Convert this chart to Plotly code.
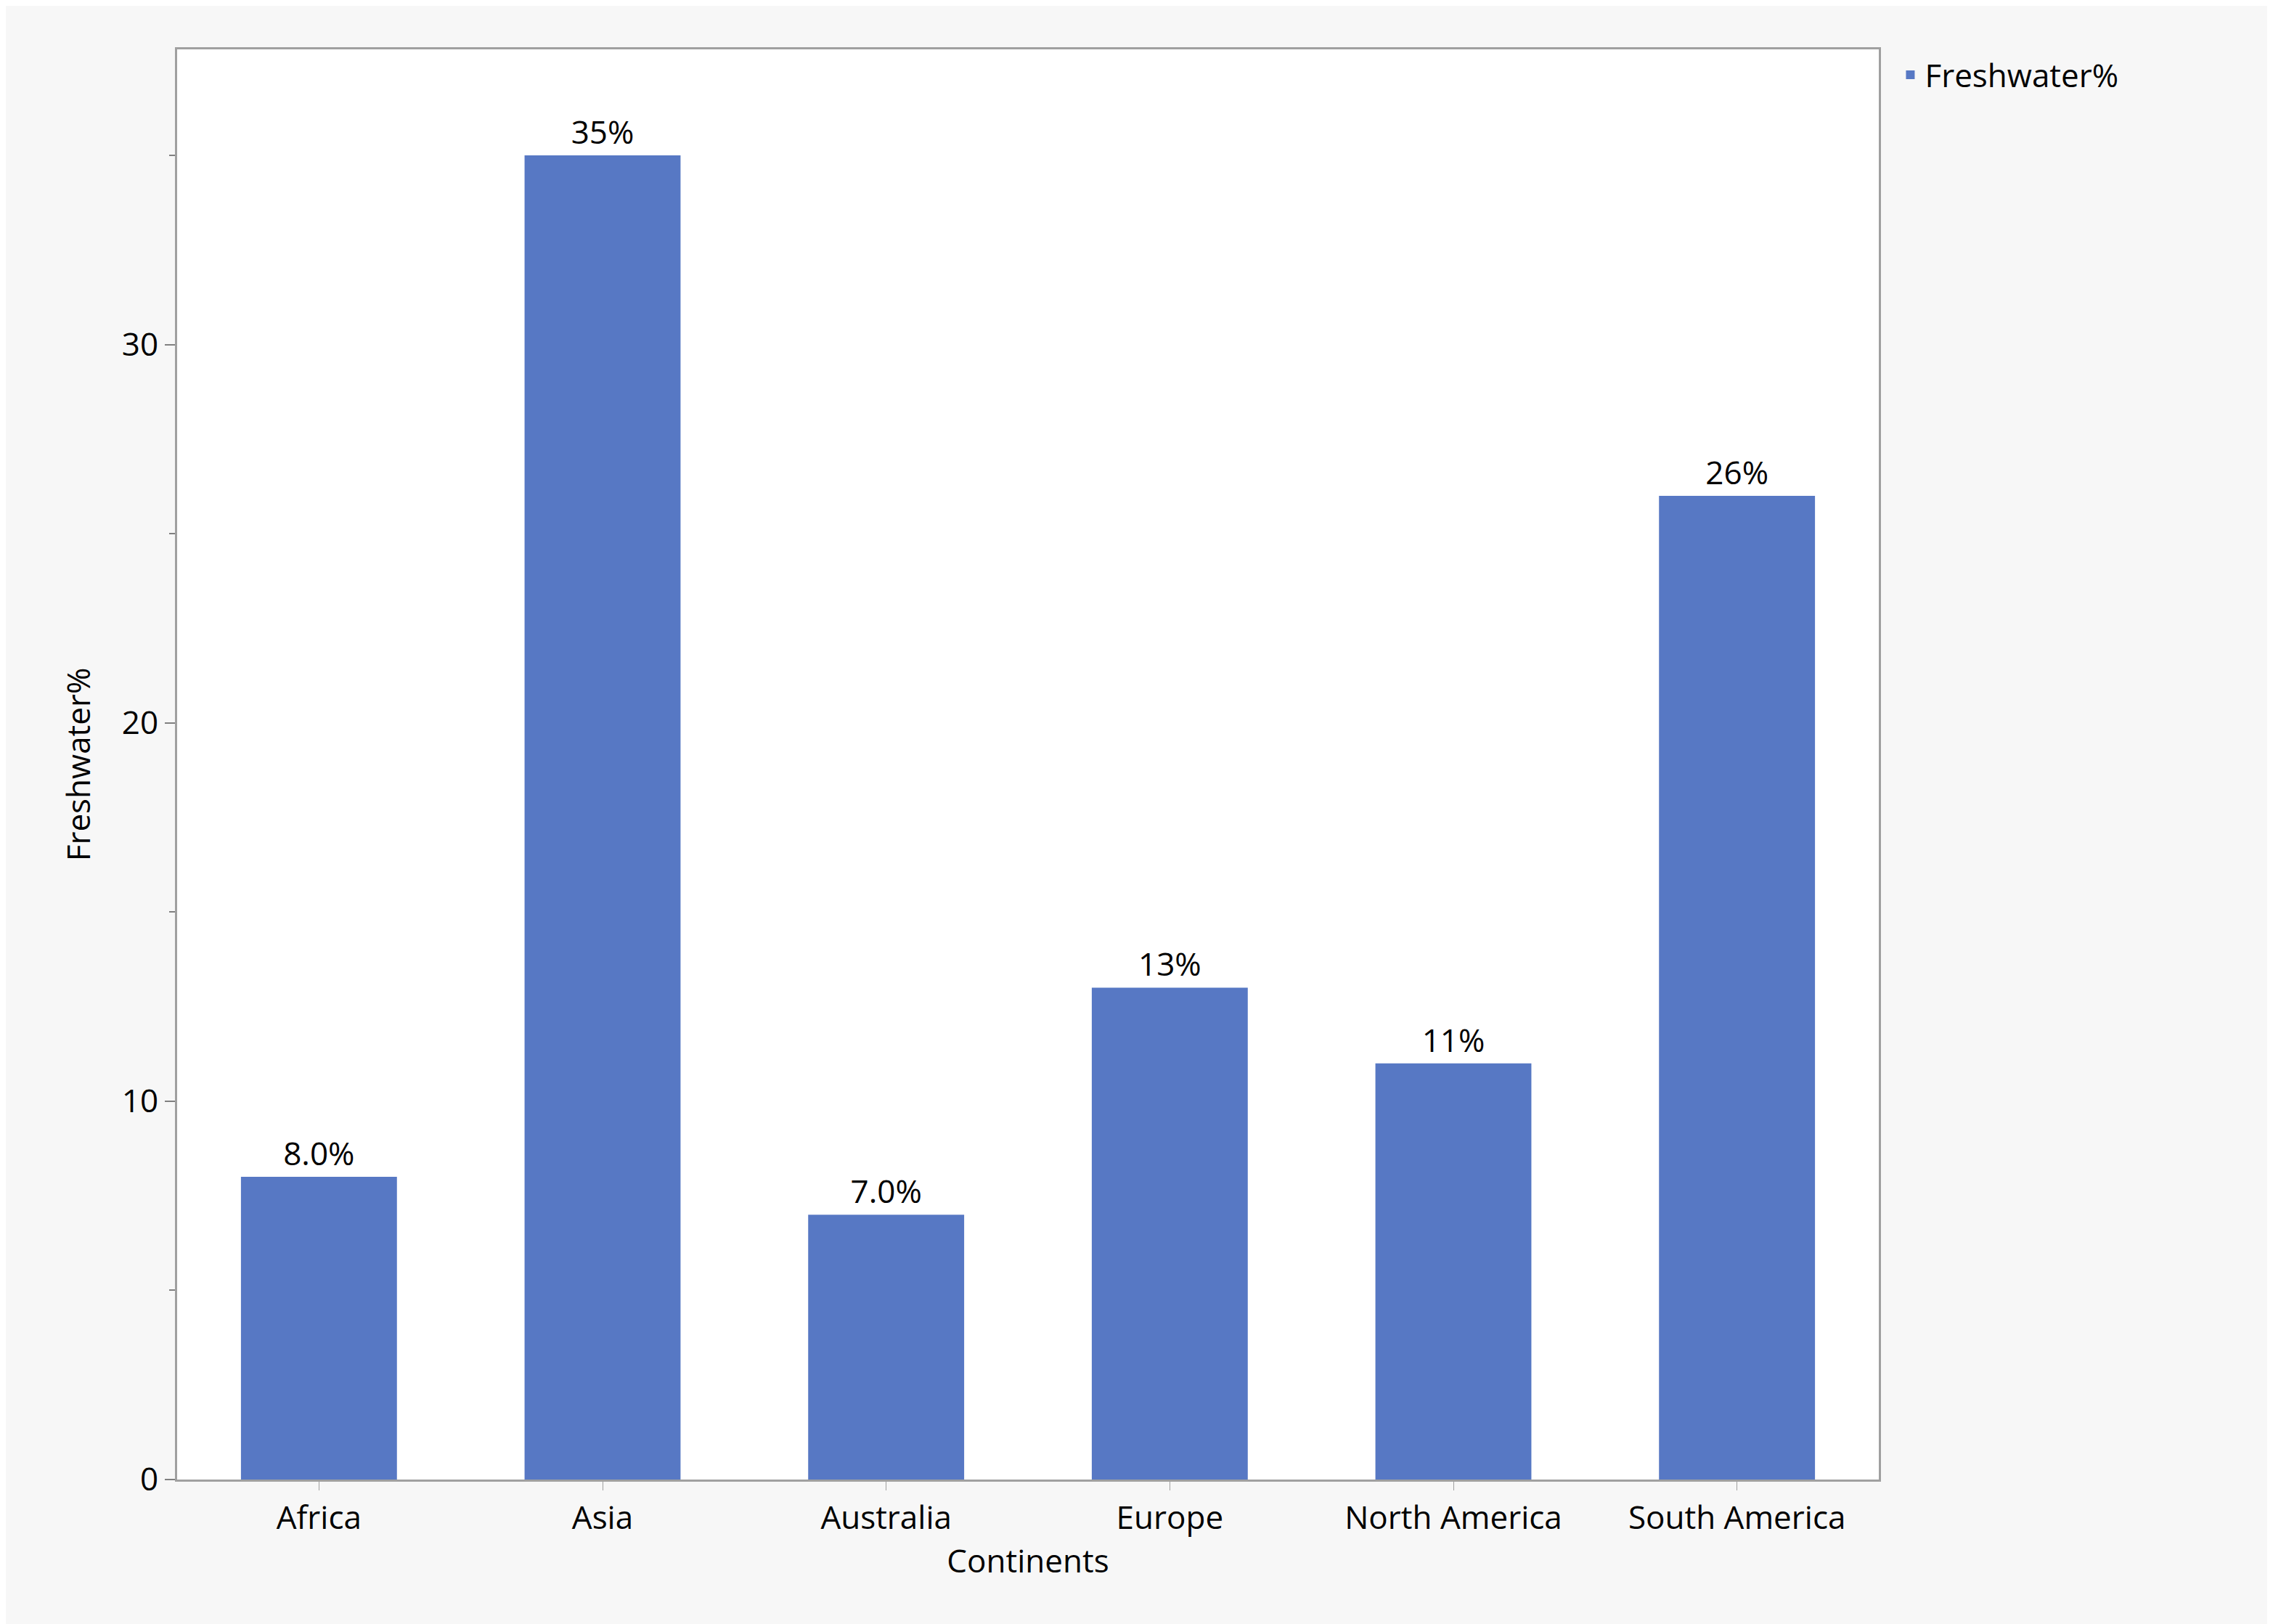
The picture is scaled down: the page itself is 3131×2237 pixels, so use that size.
import plotly.graph_objects as go

continents = ["Africa", "Asia", "Australia", "Europe", "North America", "South America"]
freshwater = [8.0, 35.0, 7.0, 13.0, 11.0, 26.0]

W, H = 3131, 2237
font = "Open Sans"
fig = go.Figure(go.Bar(
    x=continents, y=freshwater, name="Freshwater%",
    marker=dict(color="#5778c4", line=dict(width=0)),
    width=0.55,
    texttemplate="%{y:.2r}%", textposition="outside",
    textfont=dict(size=44, color="black", family=font),
    cliponaxis=False, showlegend=True,
))
axis_common = dict(showline=True, linecolor="#a0a0a0", linewidth=3, mirror=True,
                   showgrid=False, zeroline=False,
                   tickfont=dict(size=44, color="black", family=font))
fig.update_layout(
    width=W, height=H,
    paper_bgcolor="#f7f7f7", plot_bgcolor="white",
    margin=dict(l=236, r=551, t=60, b=207),
    font=dict(family=font, color="black"),
    bargap=0.45,
    legend=dict(x=1.01, y=1.0, xanchor="left", yanchor="top",
                font=dict(size=44, family=font), bgcolor="rgba(0,0,0,0)"),
    xaxis=dict(**axis_common, ticks="outside", ticklen=12, tickcolor="#a0a0a0",
               title=dict(text="Continents", font=dict(size=44, family=font), standoff=10)),
    yaxis=dict(**axis_common, range=[0, 37.8], tickvals=[0, 10, 20, 30],
               ticks="outside", ticklen=14, tickwidth=2, tickcolor="#808080",
               minor=dict(tickvals=[5, 15, 25, 35], ticks="outside", ticklen=8, tickcolor="#808080"),
               title=dict(text="Freshwater%", font=dict(size=44, family=font), standoff=30)),
)
fig.write_html("out.html")
